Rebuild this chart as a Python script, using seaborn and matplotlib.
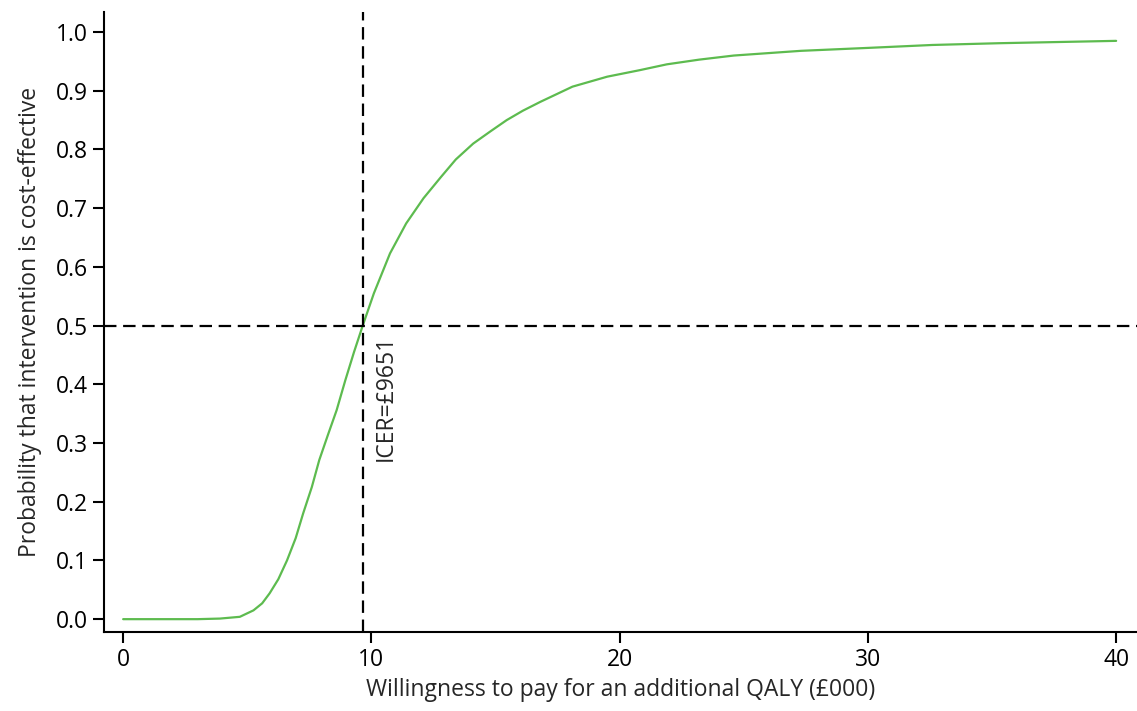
import matplotlib
matplotlib.use('Agg')
import matplotlib.pyplot as plt
import seaborn as sns
import pandas as pd

# Willingness to pay (£000) and probability cost-effective
wtp = [0, 1, 2, 3, 3.9, 4.7, 5.25, 5.6, 5.9, 6.25, 6.6, 6.95, 7.25, 7.6, 7.9,
       8.25, 8.6, 8.95, 9.3, 9.651, 10.1, 10.75, 11.4, 12.1, 12.8, 13.4, 14.1,
       14.8, 15.45, 16.1, 16.8, 18.1, 19.5, 20.8, 21.9, 23.2, 24.6, 27.3, 30,
       32.6, 35.3, 40]
prob = [0.0, 0.0, 0.0, 0.0, 0.001, 0.004, 0.015, 0.027, 0.044, 0.068, 0.10,
        0.138, 0.18, 0.225, 0.271, 0.314, 0.356, 0.407, 0.455, 0.5, 0.555,
        0.623, 0.674, 0.717, 0.753, 0.783, 0.81, 0.831, 0.85, 0.866, 0.881,
        0.907, 0.924, 0.935, 0.945, 0.953, 0.96, 0.968, 0.973, 0.978, 0.981, 0.985]
icer = 9.651
threshold = 0.5

df = pd.DataFrame({"wtp": wtp, "prob": prob})

sns.set_style("ticks")
plt.rcParams['font.family'] = ['Open Sans', 'DejaVu Sans']

fig = plt.figure(figsize=(11.37, 7.11), dpi=100)
ax = fig.add_axes([0.0915, 0.111, 0.9085, 0.872])

sns.lineplot(data=df, x="wtp", y="prob", ax=ax, color="#5dbb4f", linewidth=1.6)
ax.axvline(icer, color="black", linestyle=(0, (5.6, 3.0)), linewidth=1.6)
ax.axhline(threshold, color="black", linestyle=(0, (5.6, 3.0)), linewidth=1.6)
ax.text(icer + 0.45, 0.485, "ICER=£9651", rotation=90, ha="left", va="top", fontsize=16.5)

ax.set_xlim(-0.77, 40.84)
ax.set_ylim(-0.022, 1.034)
ax.set_xticks([0, 10, 20, 30, 40])
ax.set_yticks([i / 10 for i in range(11)])
ax.set_yticklabels([f"{i / 10:.1f}" for i in range(11)])
ax.tick_params(axis="both", labelsize=16.5, length=8, width=1.5, direction="out",
               colors="black")
for side in ["left", "bottom"]:
    ax.spines[side].set_linewidth(1.5)
    ax.spines[side].set_color("black")
sns.despine(ax=ax)

ax.set_xlabel("Willingness to pay for an additional QALY (£000)", fontsize=16.5)
ax.set_ylabel("Probability that intervention is cost-effective", fontsize=16.5,
              labelpad=10)

fig.savefig("out.png", dpi=100)
